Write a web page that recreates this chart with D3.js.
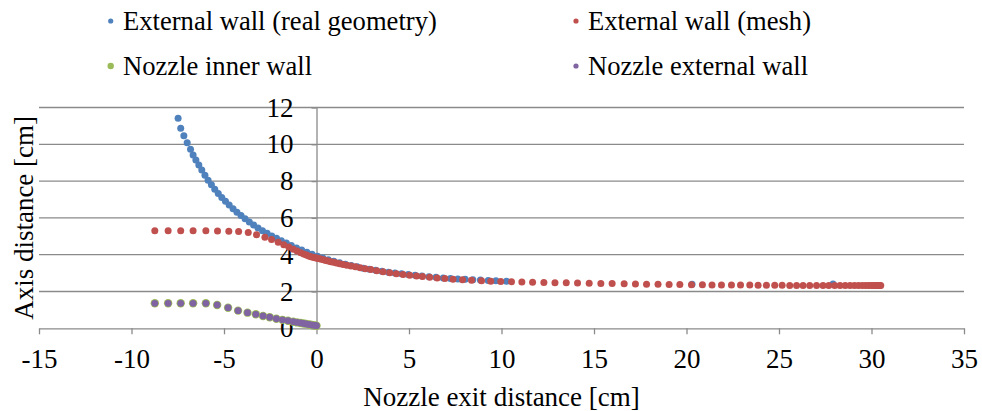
<!DOCTYPE html>
<html>
<head>
<meta charset="utf-8">
<script src="https://cdn.jsdelivr.net/npm/d3@7"></script>
<style>
  html, body { margin: 0; padding: 0; background: #ffffff; }
  svg { display: block; }
</style>
</head>
<body>
<svg id="chart" width="982" height="411"></svg>
<script>
// ---- Data ----
const seriesNames = ["External wall (real geometry)", "External wall (mesh)", "Nozzle inner wall", "Nozzle external wall"];
const seriesColors = ["#4F81BD", "#C0504D", "#9BBB59", "#8064A2"];

const xTicks = [-15, -10, -5, 0, 5, 10, 15, 20, 25, 30, 35];
const yTicks = [0, 2, 4, 6, 8, 10, 12];

const realX = [-7.48,-7.34,-7.17,-6.99,-6.81,-6.67,-6.52,-6.36,-6.2,-6.03,-5.86,-5.68,-5.5,-5.31,-5.12,-4.92,-4.72,-4.51,-4.3,-4.08,-3.86,-3.63,-3.4,-3.16,-2.92,-2.67,-2.42,-2.16,-1.9,-1.63,-1.36,-1.08,-0.8,-0.52,-0.24,0.05,0.34,0.64,0.94,1.25,1.56,1.88,2.2,2.53,2.86,3.2,3.54,3.89,4.24,4.6,4.96,5.33,5.7,6.08,6.46,6.85,7.24,7.64,8.04,8.45,8.86,9.28,9.7,10.27,20.3,27.92];
const realY = [11.41,10.87,10.47,10.09,9.73,9.42,9.15,8.87,8.6,8.32,8.05,7.8,7.56,7.33,7.11,6.9,6.7,6.5,6.31,6.13,5.95,5.78,5.61,5.45,5.3,5.16,5.02,4.89,4.76,4.63,4.5,4.37,4.25,4.13,4.02,3.92,3.82,3.73,3.64,3.56,3.48,3.41,3.34,3.27,3.21,3.15,3.1,3.05,3.0,2.96,2.92,2.88,2.84,2.8,2.77,2.74,2.71,2.68,2.66,2.64,2.62,2.6,2.58,2.56,2.39,2.41];

const meshX = [-8.74,-8.02,-7.34,-6.67,-5.98,-5.35,-4.74,-4.21,-3.69,-3.24,-2.79,-2.43,-2.07,-1.77,-1.5,-1.26,-1.05,-0.86,-0.7,-0.55,-0.42,-0.3,-0.19,-0.09,0,
  0.08,0.17,0.27,0.38,0.5,0.63,0.77,0.92,1.08,1.25,1.44,1.64,1.86,2.1,2.36,2.64,2.94,3.26,3.6,3.96,4.32,4.68,5.04,5.41,5.73,6.12,6.52,6.94,7.38,7.89,8.38,8.92,9.42,9.96,
  10.54,11.1,11.68,12.29,12.89,13.5,14.11,14.74,15.37,15.98,16.63,17.24,17.84,18.46,19.06,19.64,20.27,20.86,21.38,21.89,22.43,22.92,23.42,23.87,24.32,24.77,25.17,25.58,25.95,26.3,26.66,27.03,27.38,27.69,28.01,
  28.3,28.58,28.84,29.08,29.3,29.5,29.68,29.84,29.98,30.1,30.2,30.29,30.37,30.44,30.5];
const meshY = [5.3,5.3,5.3,5.3,5.3,5.29,5.28,5.26,5.2,5.08,4.95,4.82,4.67,4.54,4.42,4.3,4.2,4.11,4.04,3.98,3.93,3.89,3.86,3.84,3.82,
  3.8,3.78,3.75,3.72,3.69,3.66,3.62,3.59,3.55,3.51,3.47,3.43,3.38,3.34,3.29,3.24,3.19,3.13,3.07,3.02,2.97,2.92,2.88,2.84,2.81,2.77,2.74,2.7,2.67,2.64,2.61,2.58,2.56,2.54,
  2.53,2.51,2.5,2.49,2.48,2.47,2.46,2.45,2.44,2.43,2.42,2.41,2.4,2.39,2.38,2.38,2.37,2.37,2.36,2.36,2.35,2.35,2.35,2.34,2.34,2.34,2.34,2.33,2.33,2.33,2.33,2.33,2.33,2.33,2.33,
  2.33,2.33,2.33,2.33,2.33,2.33,2.33,2.33,2.33,2.33,2.33,2.33,2.33,2.33,2.33];

const nozzleInnerX = [-8.74,-8.02,-7.34,-6.67,-5.98,-5.37,-4.78,-4.24,-3.73,-3.28,-2.89,-2.53,-2.17,-1.84,-1.54,-1.26,-1.05,-0.86,-0.7,-0.55,-0.42,-0.3,-0.19,-0.09,0];
const nozzleInnerY = [1.36,1.36,1.36,1.36,1.36,1.27,1.12,0.96,0.85,0.76,0.67,0.6,0.52,0.46,0.41,0.36,0.32,0.29,0.26,0.24,0.21,0.19,0.17,0.16,0.14];
const nozzleOuterX = [-8.74,-8.02,-7.34,-6.67,-5.98,-5.37,-4.78,-4.24,-3.73,-3.28,-2.89,-2.53,-2.17,-1.84,-1.54,-1.26,-1.05,-0.86,-0.7,-0.55,-0.42,-0.3,-0.19,-0.09,0];
const nozzleOuterY = [1.36,1.36,1.36,1.36,1.36,1.27,1.12,0.96,0.85,0.76,0.67,0.6,0.52,0.46,0.41,0.36,0.32,0.29,0.26,0.24,0.21,0.19,0.17,0.16,0.14];

// ---- Build ----
const svg = d3.select("#chart");
const FONT_FAMILY = "'Liberation Serif', 'Times New Roman', serif";
const FONT = 27;
const LEGEND_FONT = 26.6;
const gridColor = "#8a8a8a";

const x = d3.scaleLinear().domain([-15, 35]).range([39, 964]);
const y = d3.scaleLinear().domain([0, 12]).range([328.3, 107.5]);

function styleText(sel, size) {
  sel.style("font-family", FONT_FAMILY).style("font-size", (size || FONT) + "px").attr("fill", "#000");
}

// horizontal gridlines
svg.append("g").selectAll("line").data(yTicks.filter(d => d !== 0)).join("line")
  .attr("x1", x(-15)).attr("x2", x(35))
  .attr("y1", d => y(d)).attr("y2", d => y(d))
  .attr("stroke", gridColor).attr("stroke-width", 1.3);

// x axis (at y = 0)
const xAxis = svg.append("g").attr("transform", `translate(0,${y(0)})`)
  .call(d3.axisBottom(x).tickValues(xTicks).tickFormat(d => String(d)).tickSize(6).tickPadding(15).tickSizeOuter(0));
xAxis.attr("font-family", null).attr("font-size", null);
xAxis.select(".domain").attr("stroke", gridColor).attr("stroke-width", 1.3);
xAxis.selectAll(".tick line").attr("stroke", gridColor).attr("stroke-width", 1.3);
xAxis.selectAll("text").call(styleText);

// y axis (at x = 0)
const yAxis = svg.append("g").attr("transform", `translate(${x(0)},0)`)
  .call(d3.axisLeft(y).tickValues(yTicks).tickFormat(d => String(d)).tickSize(5).tickPadding(18).tickSizeOuter(0));
yAxis.attr("font-family", null).attr("font-size", null);
yAxis.select(".domain").attr("stroke", gridColor).attr("stroke-width", 1.3);
yAxis.selectAll(".tick line").attr("stroke", gridColor).attr("stroke-width", 1.3);
yAxis.selectAll("text").call(styleText);

// series
const series = [
  { xs: realX, ys: realY, color: seriesColors[0], r: 3.5 },
  { xs: meshX, ys: meshY, color: seriesColors[1], r: 3.5 },
  { xs: nozzleInnerX, ys: nozzleInnerY, color: seriesColors[2], r: 4.2 },
  { xs: nozzleOuterX, ys: nozzleOuterY, color: seriesColors[3], r: 3.4 }
];
series.forEach(s => {
  svg.append("g").selectAll("circle").data(s.xs.map((v, i) => [v, s.ys[i]])).join("circle")
    .attr("cx", d => x(d[0])).attr("cy", d => y(d[1])).attr("r", s.r).attr("fill", s.color);
});

// axis titles
svg.append("text").attr("x", (x(-15) + x(35)) / 2).attr("y", 406)
  .attr("text-anchor", "middle").call(styleText)
  .text("Nozzle exit distance [cm]");
svg.append("text").attr("transform", `translate(33,${(y(0) + y(12)) / 2}) rotate(-90)`)
  .attr("text-anchor", "middle").call(styleText)
  .text("Axis distance [cm]");

// legend
const legendPos = [
  { dx: 110.7, tx: 123, base: 30, r: 2.6 },
  { dx: 576, tx: 588, base: 30, r: 2.6 },
  { dx: 110.7, tx: 123, base: 75, r: 3.2 },
  { dx: 576, tx: 588, base: 75, r: 2.6 }
];
const lg = svg.append("g");
seriesNames.forEach((name, i) => {
  const p = legendPos[i];
  lg.append("circle").attr("cx", p.dx).attr("cy", p.base - 9).attr("r", p.r).attr("fill", seriesColors[i]);
  lg.append("text").attr("x", p.tx).attr("y", p.base).call(styleText, LEGEND_FONT).text(name);
});
</script>
</body>
</html>
